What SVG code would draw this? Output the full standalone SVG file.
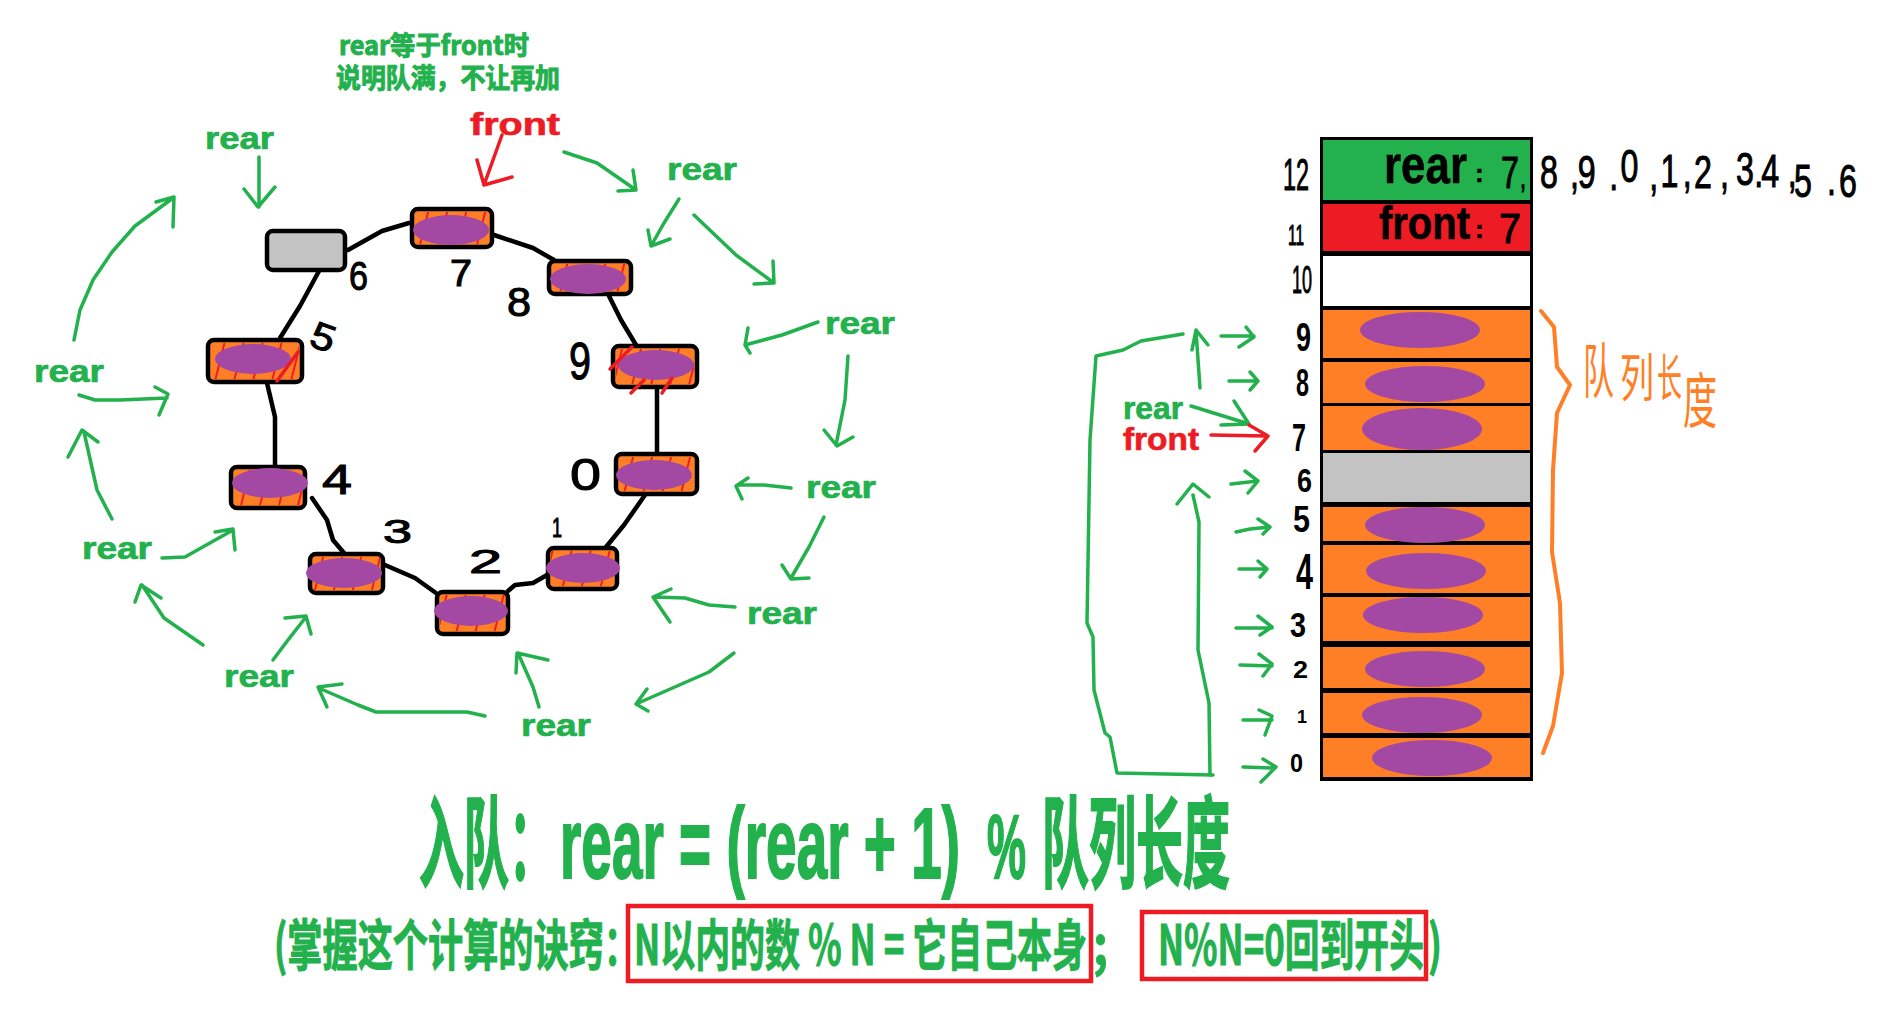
<svg xmlns="http://www.w3.org/2000/svg" width="1895" height="1013" viewBox="0 0 1895 1013">
<style>
text{font-family:"Liberation Sans","Noto Sans CJK SC",sans-serif}
.g{fill:none;stroke:#22b14c;stroke-width:3.5;stroke-linecap:round;stroke-linejoin:round}
.r{fill:none;stroke:#ed1c24;stroke-width:3.5;stroke-linecap:round;stroke-linejoin:round}
.o{fill:none;stroke:#ff7f27;stroke-width:4;stroke-linecap:round;stroke-linejoin:round}
.e{fill:none;stroke:#000;stroke-width:4.5;stroke-linecap:round;stroke-linejoin:round}
.box{fill:#ff7f27;stroke:#000;stroke-width:4.5}
.gray{fill:#c3c3c3;stroke:#000;stroke-width:4.5}
.hatch{fill:url(#h);stroke:none}
.pur{fill:#a349a4}
.tg{fill:#22b14c;font-weight:700;stroke:#22b14c;stroke-width:.7}
.tr{fill:#ed1c24;font-weight:700;stroke:#ed1c24;stroke-width:.7}
.tk{fill:#000;font-weight:700;stroke:#000;stroke-width:.6}
.big{stroke-width:2}
.mid{stroke-width:1}
.d{fill:#000;stroke:#000;stroke-width:1}
.db{fill:#000;font-weight:700}
.cjk{font-family:"Noto Sans CJK SC","Liberation Sans",sans-serif}
.to{fill:#ff7f27;font-family:"Noto Sans CJK SC",sans-serif;font-weight:400}
.rb{fill:none;stroke:#ed1c24;stroke-width:4.5}
</style>
<defs>
<pattern id="h" width="19" height="40" patternUnits="userSpaceOnUse" patternTransform="skewX(-14)">
<line x1="6" y1="0" x2="6" y2="40" stroke="#ed1c24" stroke-width="2"/>
</pattern>
</defs>
<rect width="1895" height="1013" fill="#fff"/>

<g id="connectors-ring">
<path class="e" d="M348 250L382 231L409 223"/>
<path class="e" d="M494 235L533 248L554 260"/>
<path class="e" d="M609 296L621 320L636 345"/>
<path class="e" d="M657 388L657 453"/>
<path class="e" d="M319 271L300 306L280 338"/>
<path class="e" d="M267 383L271 400L275 417L275 466"/>
<path class="e" d="M312 498L327 520L333 540L344 553"/>
<path class="e" d="M385 565L415 578L436 593"/>
<path class="e" d="M508 591L515 585L533 583L547 575"/>
<path class="e" d="M606 547L624 525L645 495"/>
</g>

<g id="node-6"><rect class="gray" x="267" y="231" width="78" height="39" rx="6"/></g>
<g id="node-7"><rect class="box" x="412" y="209" width="80" height="38" rx="6"/><rect class="hatch" x="415" y="212" width="74" height="32"/><ellipse class="pur" cx="451" cy="230" rx="38" ry="15"/></g>
<g id="node-8"><rect class="box" x="549" y="261" width="82" height="33" rx="6"/><rect class="hatch" x="552" y="264" width="76" height="27"/><ellipse class="pur" cx="588" cy="279" rx="38" ry="15"/></g>
<g id="node-9"><rect class="box" x="613" y="346" width="84" height="41" rx="6"/><rect class="hatch" x="616" y="349" width="78" height="35"/><ellipse class="pur" cx="656" cy="365" rx="38" ry="15"/><path class="r" d="M610 369L632 347M631 393L644 380M662 393L672 378"/></g>
<g id="node-5"><rect class="box" x="208" y="340" width="94" height="42" rx="6"/><rect class="hatch" x="211" y="343" width="88" height="36"/><ellipse class="pur" cx="253" cy="359" rx="38" ry="15"/><path class="r" d="M277 381L298 352"/></g>
<g id="node-4"><rect class="box" x="231" y="467" width="74" height="41" rx="6"/><rect class="hatch" x="234" y="470" width="68" height="35"/><ellipse class="pur" cx="270" cy="483" rx="38" ry="15"/></g>
<g id="node-3"><rect class="box" x="310" y="554" width="73" height="39" rx="6"/><rect class="hatch" x="313" y="557" width="67" height="33"/><ellipse class="pur" cx="344" cy="573" rx="38" ry="15"/></g>
<g id="node-2"><rect class="box" x="437" y="592" width="71" height="42" rx="6"/><rect class="hatch" x="440" y="595" width="65" height="36"/><ellipse class="pur" cx="471" cy="611" rx="37" ry="15"/></g>
<g id="node-1"><rect class="box" x="548" y="548" width="69" height="41" rx="6"/><rect class="hatch" x="551" y="551" width="63" height="35"/><ellipse class="pur" cx="583" cy="568" rx="37" ry="15"/></g>
<g id="node-0"><rect class="box" x="616" y="454" width="81" height="40" rx="6"/><rect class="hatch" x="619" y="457" width="75" height="34"/><ellipse class="pur" cx="654" cy="475" rx="38" ry="15"/></g>

<g id="ring-digits">
<text class="d" x="349" y="290" font-size="40" textLength="19" lengthAdjust="spacingAndGlyphs">6</text>
<text class="d" x="450" y="286" font-size="36" textLength="22" lengthAdjust="spacingAndGlyphs">7</text>
<text class="d" x="507" y="316" font-size="40" textLength="24" lengthAdjust="spacingAndGlyphs">8</text>
<text class="d" x="312" y="350" font-size="38" textLength="24" lengthAdjust="spacingAndGlyphs" transform="rotate(20 323 335)">5</text>
<text class="d" x="569" y="379" font-size="52" textLength="22" lengthAdjust="spacingAndGlyphs">9</text>
<text class="d" x="322" y="494" font-size="42" textLength="30" lengthAdjust="spacingAndGlyphs">4</text>
<text class="d" x="570" y="490" font-size="44" textLength="31" lengthAdjust="spacingAndGlyphs">0</text>
<text class="d" x="383" y="543" font-size="33" textLength="29" lengthAdjust="spacingAndGlyphs">3</text>
<text class="d" x="469" y="573" font-size="33" textLength="33" lengthAdjust="spacingAndGlyphs">2</text>
<text class="d" x="552" y="537" font-size="27" textLength="10" lengthAdjust="spacingAndGlyphs">1</text>
</g>

<g id="labels-ring">
<text class="tg cjk mid" x="339" y="55" font-size="26" textLength="190" lengthAdjust="spacingAndGlyphs">rear等于front时</text>
<text class="tg cjk mid" x="336" y="88" font-size="27" textLength="224" lengthAdjust="spacingAndGlyphs">说明队满，不让再加</text>
<text class="tr" x="470" y="135" font-size="32" textLength="90" lengthAdjust="spacingAndGlyphs">front</text>
<text class="tg" x="205" y="149" font-size="32" textLength="69" lengthAdjust="spacingAndGlyphs">rear</text>
<text class="tg" x="667" y="180" font-size="32" textLength="70" lengthAdjust="spacingAndGlyphs">rear</text>
<text class="tg" x="825" y="334" font-size="32" textLength="70" lengthAdjust="spacingAndGlyphs">rear</text>
<text class="tg" x="34" y="382" font-size="32" textLength="70" lengthAdjust="spacingAndGlyphs">rear</text>
<text class="tg" x="806" y="498" font-size="32" textLength="70" lengthAdjust="spacingAndGlyphs">rear</text>
<text class="tg" x="747" y="624" font-size="32" textLength="70" lengthAdjust="spacingAndGlyphs">rear</text>
<text class="tg" x="521" y="736" font-size="32" textLength="70" lengthAdjust="spacingAndGlyphs">rear</text>
<text class="tg" x="224" y="687" font-size="32" textLength="70" lengthAdjust="spacingAndGlyphs">rear</text>
<text class="tg" x="82" y="559" font-size="32" textLength="70" lengthAdjust="spacingAndGlyphs">rear</text>
</g>

<g id="connectors-rear">
<path class="g" d="M259 157L259 207M244 189L258 207L275 187"/>
<path class="r" d="M502 135L484 185M477 160L484 185L512 177"/>
<path class="g" d="M564 152L597 163L636 190M633 170L636 190L618 191"/>
<path class="g" d="M679 199L664 223L651 246M648 230L651 246L670 239"/>
<path class="g" d="M694 215L736 255L774 283M773 261L774 283L754 284"/>
<path class="g" d="M818 322L782 335L745 345M748 328L745 345L750 353"/>
<path class="g" d="M848 356L845 400L836 445M824 430L837 446L853 437"/>
<path class="g" d="M791 488L764 485L738 485M748 478L736 486L742 499"/>
<path class="g" d="M824 517L809 547L791 578M782 565L791 579L809 578"/>
<path class="g" d="M735 607L709 605L685 598L654 597M671 589L653 597L670 622"/>
<path class="g" d="M734 653L709 672L636 704M647 689L636 704L648 711"/>
<path class="g" d="M539 707L533 687L518 653M516 673L517 653L548 660"/>
<path class="g" d="M485 716L467 712L376 712L358 705L321 689M327 707L318 687L342 684"/>
<path class="g" d="M273 660L288 640L306 617M285 618L306 616L311 634"/>
<path class="g" d="M203 645L164 618L142 585M135 602L141 585L161 598"/>
<path class="g" d="M162 558L185 557L233 530M215 532L233 529L235 550"/>
<path class="g" d="M112 519L97 490L84 432M68 457L82 430L98 442"/>
<path class="g" d="M79 395L95 400L120 400L167 398M155 387L168 394L159 415"/>
<path class="g" d="M74 340L80 310L93 280L112 252L135 226L173 198M156 202L174 197L173 227"/>
</g>

<g id="stack">
<rect x="1320" y="137" width="213" height="644" fill="#000"/>
<rect x="1323" y="140" width="207" height="60" fill="#22b14c"/>
<rect x="1323" y="204" width="207" height="47" fill="#ed1c24"/>
<rect x="1323" y="256" width="207" height="50" fill="#fff"/>
<g id="cell-9"><rect x="1323" y="310" width="207" height="48" fill="#ff7f27"/><ellipse class="pur" cx="1420" cy="330" rx="60" ry="18"/></g>
<g id="cell-8"><rect x="1323" y="362" width="207" height="41" fill="#ff7f27"/><ellipse class="pur" cx="1425" cy="384" rx="60" ry="18"/></g>
<g id="cell-7"><rect x="1323" y="406" width="207" height="44" fill="#ff7f27"/><ellipse class="pur" cx="1422" cy="429" rx="60" ry="21"/></g>
<g id="cell-6"><rect x="1323" y="453" width="207" height="49" fill="#c3c3c3"/></g>
<g id="cell-5"><rect x="1323" y="507" width="207" height="34" fill="#ff7f27"/><ellipse class="pur" cx="1425" cy="525" rx="60" ry="18"/></g>
<g id="cell-4"><rect x="1323" y="545" width="207" height="48" fill="#ff7f27"/><ellipse class="pur" cx="1426" cy="571" rx="60" ry="18"/></g>
<g id="cell-3"><rect x="1323" y="597" width="207" height="44" fill="#ff7f27"/><ellipse class="pur" cx="1423" cy="615" rx="60" ry="18"/></g>
<g id="cell-2"><rect x="1323" y="647" width="207" height="41" fill="#ff7f27"/><ellipse class="pur" cx="1425" cy="669" rx="60" ry="18"/></g>
<g id="cell-1"><rect x="1323" y="693" width="207" height="40" fill="#ff7f27"/><ellipse class="pur" cx="1422" cy="715" rx="60" ry="18"/></g>
<g id="cell-0"><rect x="1323" y="738" width="207" height="39" fill="#ff7f27"/><ellipse class="pur" cx="1432" cy="758" rx="60" ry="18"/></g>
<text class="tk" x="1384" y="183" font-size="54" textLength="83" lengthAdjust="spacingAndGlyphs">rear</text>
<text class="tk" x="1475" y="182" font-size="26">:</text>
<text class="d" x="1501" y="188" font-size="44" textLength="18" lengthAdjust="spacingAndGlyphs">7</text>
<text class="d" x="1520" y="188" font-size="30" textLength="6" lengthAdjust="spacingAndGlyphs">,</text>
<text class="tk" x="1379" y="239" font-size="46" textLength="91" lengthAdjust="spacingAndGlyphs">front</text>
<text class="tk" x="1475" y="238" font-size="26">:</text>
<text class="d" x="1499" y="243" font-size="42" textLength="22" lengthAdjust="spacingAndGlyphs">7</text>
</g>

<text id="sequence" class="d" font-size="46" transform="scale(.7 1)" x="2200 2243 2254 2299 2315 2356 2372 2404 2420 2457 2480 2506 2516 2554 2563 2610 2627" y="188 188 188 190 182 190 187 187 188 188 185 187 187 187 197 195 197">8,9.0,1,2,3.4,5.6</text>

<g id="stack-digits">
<text class="d" x="1283" y="190" font-size="44" textLength="26" lengthAdjust="spacingAndGlyphs">12</text>
<text class="d" x="1288" y="245" font-size="30" textLength="16" lengthAdjust="spacingAndGlyphs">11</text>
<text class="d" x="1292" y="293" font-size="38" textLength="20" lengthAdjust="spacingAndGlyphs">10</text>
<text class="db" x="1296" y="351" font-size="40" textLength="15" lengthAdjust="spacingAndGlyphs">9</text>
<text class="db" x="1296" y="396" font-size="39" textLength="13" lengthAdjust="spacingAndGlyphs">8</text>
<text class="db" x="1292" y="451" font-size="39" textLength="14" lengthAdjust="spacingAndGlyphs">7</text>
<text class="db" x="1297" y="492" font-size="33" textLength="15" lengthAdjust="spacingAndGlyphs">6</text>
<text class="db" x="1293" y="532" font-size="37" textLength="17" lengthAdjust="spacingAndGlyphs">5</text>
<text class="db" x="1296" y="589" font-size="50" textLength="17" lengthAdjust="spacingAndGlyphs">4</text>
<text class="db" x="1290" y="637" font-size="35" textLength="16" lengthAdjust="spacingAndGlyphs">3</text>
<text class="db" x="1293" y="678" font-size="23" textLength="15" lengthAdjust="spacingAndGlyphs">2</text>
<text class="db" x="1297" y="723" font-size="18" textLength="10" lengthAdjust="spacingAndGlyphs">1</text>
<text class="db" x="1290" y="772" font-size="26" textLength="13" lengthAdjust="spacingAndGlyphs">0</text>
</g>

<g id="connectors-stack">
<path class="g" d="M1221 336L1254 336M1246 327L1254 337L1239 347"/>
<path class="g" d="M1229 381L1257 381M1250 372L1258 381L1250 390"/>
<path class="g" d="M1200 388L1196 331M1192 350L1196 330L1208 345"/>
<path class="g" d="M1183 334L1141 341L1123 350L1096 356L1090 440L1087 623L1093 637L1094 690L1105 733L1110 737L1117 773L1213 775"/>
<path class="g" d="M1210 775L1209 703L1198 650L1199 522L1193 495M1177 504L1193 484L1209 497"/>
<path class="g" d="M1191 406L1249 424M1234 401L1249 424L1221 425"/>
<path class="r" d="M1211 435L1267 436M1249 425L1268 436L1255 451"/>
<path class="g" d="M1231 484L1258 481M1245 471L1258 481L1248 493"/>
<path class="g" d="M1236 532L1250 529L1270 527M1258 519L1270 527L1263 534"/>
<path class="g" d="M1239 569L1267 569M1258 561L1267 569L1260 577"/>
<path class="g" d="M1236 628L1272 628M1258 616L1272 627L1260 635"/>
<path class="g" d="M1240 665L1272 666M1259 654L1272 664L1263 676"/>
<path class="g" d="M1243 720L1272 720M1259 710L1272 716L1265 735"/>
<path class="g" d="M1243 767L1275 768M1263 759L1276 767L1261 782"/>
<path class="o" d="M1541 311L1554 327L1557 367L1570 385L1557 413L1553 470L1552 552L1560 603L1562 673L1553 726L1543 753"/>
</g>

<g id="labels-stack">
<text class="tg" x="1123" y="419" font-size="31" textLength="60" lengthAdjust="spacingAndGlyphs">rear</text>
<text class="tr" x="1123" y="450" font-size="32" textLength="76" lengthAdjust="spacingAndGlyphs">front</text>
<text class="to" x="1583" y="393" font-size="60" textLength="31" lengthAdjust="spacingAndGlyphs">队</text>
<text class="to" x="1620" y="397" font-size="52" textLength="34" lengthAdjust="spacingAndGlyphs">列</text>
<text class="to" x="1657" y="396" font-size="50" textLength="25" lengthAdjust="spacingAndGlyphs">长</text>
<text class="to" x="1683" y="423" font-size="60" textLength="34" lengthAdjust="spacingAndGlyphs">度</text>
</g>

<g id="formula">
<text class="tg cjk big" x="419" y="880" font-size="100" textLength="135" lengthAdjust="spacingAndGlyphs">入队：</text>
<text class="tg big" x="560" y="878" font-size="100" textLength="400" lengthAdjust="spacingAndGlyphs">rear = (rear + 1)</text>
<text class="tg big" x="987" y="878" font-size="90" textLength="39" lengthAdjust="spacingAndGlyphs">%</text>
<text class="tg cjk big" x="1042" y="880" font-size="100" textLength="188" lengthAdjust="spacingAndGlyphs">队列长度</text>
<text class="tg cjk mid" x="274" y="965" font-size="55" textLength="365" lengthAdjust="spacingAndGlyphs">(掌握这个计算的诀窍：</text>
<text class="tg cjk mid" x="634" y="965" font-size="55" textLength="453" lengthAdjust="spacingAndGlyphs">N以内的数 % N = 它自己本身</text>
<text class="tg cjk mid" x="1093" y="965" font-size="55" textLength="15" lengthAdjust="spacingAndGlyphs">;</text>
<text class="tg cjk mid" x="1158" y="965" font-size="55" textLength="266" lengthAdjust="spacingAndGlyphs">N%N=0回到开头</text>
<text class="tg cjk mid" x="1428" y="965" font-size="55" textLength="14" lengthAdjust="spacingAndGlyphs">)</text>
<rect class="rb" x="628" y="906" width="463" height="75"/>
<rect class="rb" x="1142" y="912" width="284" height="67"/>
</g>
</svg>
